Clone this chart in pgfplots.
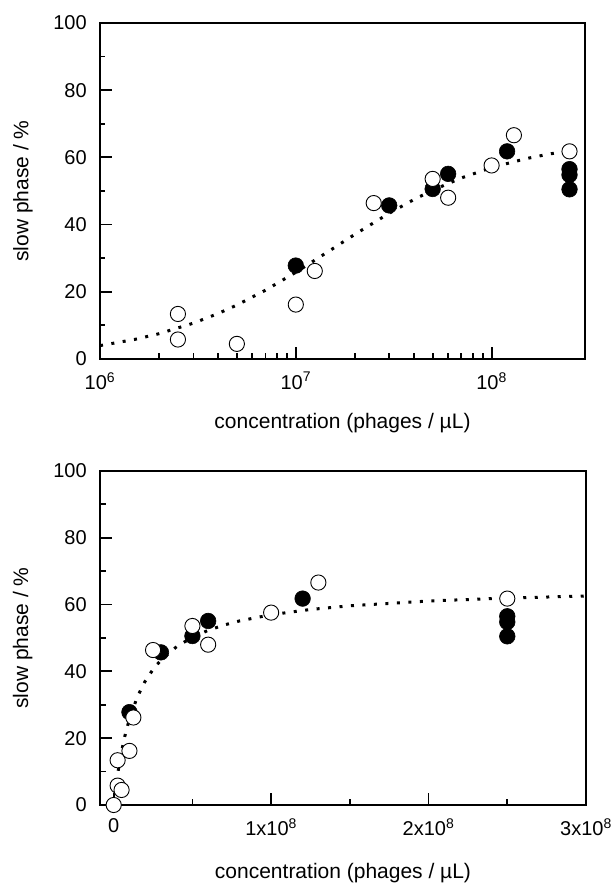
\documentclass[border=0pt]{standalone}
\usepackage{fontspec}
\setmainfont{Liberation Sans}
\usepackage{pgfplots}
\pgfplotsset{compat=1.18}
\begin{document}
\begin{tikzpicture}
\path[use as bounding box] (0pt,0pt) rectangle (613pt,886pt);
\pgfplotsset{
  panel/.style={
    scale only axis,
    ymin=0, ymax=100,
    ytick={0,20,40,60,80,100},
    yticklabels={0,20,40,60,80,100},
    minor ytick={10,30,50,70,90},
    tick pos=left, tick align=inside,
    major tick length=12pt, minor tick length=5.5pt,
    every tick/.style={black, line width=1.8pt},
    line width=1.9pt,
    clip=false,
    ylabel={slow phase / \%},
    xlabel={concentration (phages / µL)},
    ylabel style={at={(axis description cs:-0.159,0.5)}, anchor=center, font=\fontsize{21}{25}\selectfont},
    xlabel style={anchor=center, font=\fontsize{21}{25}\selectfont},
    yticklabel style={font=\fontsize{20}{24}\selectfont, xshift=-9pt},
    xticklabel style={font=\fontsize{20}{24}\selectfont, yshift=-9pt},
  },
  fitline/.style={black, line width=3pt, dash pattern=on 3pt off 8.5pt, mark=none},
  filled/.style={only marks, mark=*, mark size=7.8pt, mark options={fill=black, draw=black, line width=0.6pt}},
  open/.style={only marks, mark=*, mark size=7.6pt, mark options={fill=white, draw=black, line width=0.9pt}},
}
% ---------------- top panel (log) ----------------
\begin{axis}[panel,
  at={(100pt,863pt)}, anchor=north west,
  width=485pt, height=336pt,
  xmode=log, xmin=1e6, xmax=3e8,
  xtick={1e6,1e7,1e8},
  xticklabels={10\textsuperscript{6},10\textsuperscript{7},10\textsuperscript{8}},
  xlabel style={at={(axis description cs:0.5,-0.19)}},
]
\addplot[fitline] coordinates {
(1e6,3.99) (1.5e6,5.81) (2e6,7.52) (3e6,10.67) (4e6,13.50) (5e6,16.05)
(7e6,20.47) (1e7,25.80) (1.5e7,32.36) (2e7,37.07) (3e7,43.38) (4e7,47.42)
(5e7,50.23) (7e7,53.87) (1e8,56.97) (1.5e8,59.64) (2e8,61.07) (2.5e8,61.96)
};
\addplot[filled] coordinates {
(1e7,27.8) (3e7,45.7) (5e7,50.6) (6e7,55.1) (1.2e8,61.8)
(2.5e8,56.5) (2.5e8,54.8) (2.5e8,50.5)
};
\addplot[open] coordinates {
(2.5e6,13.4) (2.5e6,5.8) (5e6,4.5) (1e7,16.2) (1.25e7,26.2) (2.5e7,46.4)
(5e7,53.6) (6e7,48.0) (1e8,57.6) (1.3e8,66.6) (2.5e8,61.8)
};
\end{axis}
% ---------------- bottom panel (linear, x in units of 1e8) ----------------
\begin{axis}[panel,
  at={(100pt,415pt)}, anchor=north west,
  width=486pt, height=334pt,
  xmin=-0.087, xmax=3,
  xtick={0,1,2,3},
  xticklabels={0,1x10\textsuperscript{8},2x10\textsuperscript{8},3x10\textsuperscript{8}},
  minor xtick={0.5,1.5,2.5},
  xlabel style={at={(axis description cs:0.5,-0.204)}},
]
\addplot[fitline] coordinates {
(0,0) (0.01,3.99) (0.02,7.52) (0.03,10.67) (0.05,16.05) (0.07,20.47)
(0.1,25.80) (0.15,32.36) (0.2,37.07) (0.25,40.62) (0.3,43.38) (0.4,47.42)
(0.5,50.23) (0.6,52.29) (0.7,53.87) (0.8,55.12) (1.0,56.97) (1.25,58.54)
(1.5,59.64) (2.0,61.07) (2.5,61.96) (3.0,62.57)
};
\addplot[filled] coordinates {
(0.1,27.8) (0.3,45.7) (0.5,50.6) (0.6,55.1) (1.2,61.8)
(2.5,56.5) (2.5,54.8) (2.5,50.5)
};
\addplot[open] coordinates {
(0,0) (0.025,13.4) (0.025,5.8) (0.05,4.5) (0.1,16.2) (0.125,26.2) (0.25,46.4)
(0.5,53.6) (0.6,48.0) (1.0,57.6) (1.3,66.6) (2.5,61.8)
};
\end{axis}
\end{tikzpicture}
\end{document}
